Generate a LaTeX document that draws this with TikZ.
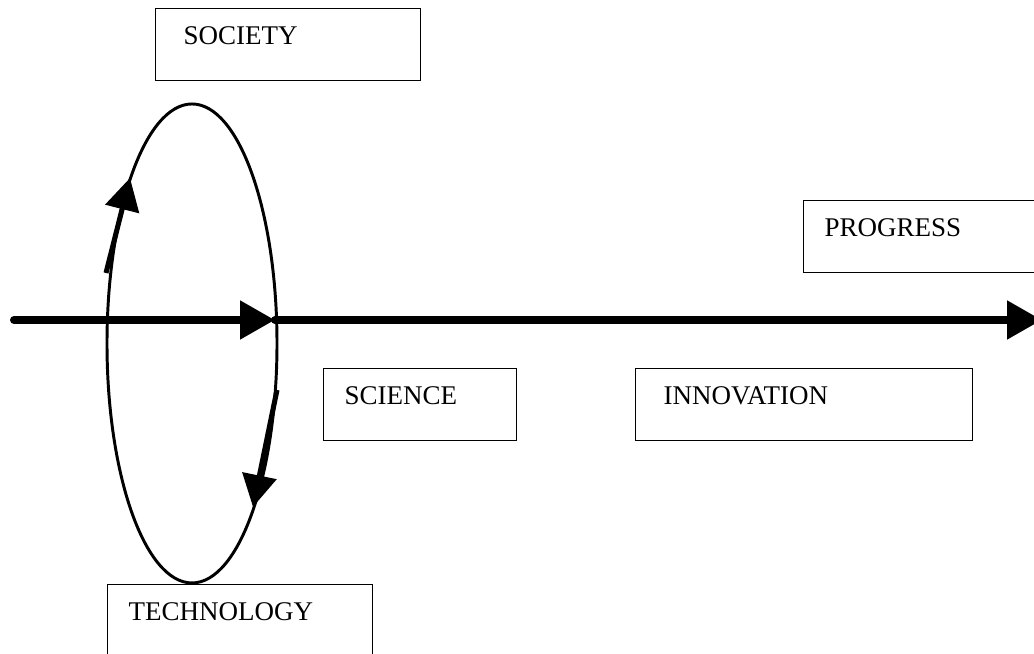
\documentclass[tikz,border=0pt]{standalone}
\usepackage{fontspec}
\setmainfont{Liberation Serif}
\usetikzlibrary{arrows.meta}

\begin{document}
\begin{tikzpicture}[
    box/.style={draw, line width=0.95pt, anchor=north west, minimum height=1.8cm,
        inner xsep=0.525cm, text height=0.45cm, text depth=0.45cm, align=left,
        font=\fontsize{19.2}{23}\selectfont},
    mainarrow/.style={line width=5.7pt, line cap=round, -{Triangle[length=0.875cm, width=0.925cm]}},
    looparrow/.style={line width=3.6pt, -{Triangle[length=0.8cm, width=0.85cm]}}
]
\useasboundingbox (0,0) rectangle (25.85,16.35);
\node[box, inner xsep=0.7cm, text width=5.225cm] (society) at (3.875,16.15) {SOCIETY};
\node[box, text width=3.775cm] (science) at (8.075,7.15) {SCIENCE};
\node[box, inner xsep=0.7cm, text width=7.025cm] (innovation) at (15.875,7.15) {INNOVATION};
\node[box, text width=5.95cm] (progress) at (20.075,11.35) {PROGRESS};
\node[box, text width=5.575cm] (technology) at (2.675,1.75) {TECHNOLOGY};
\draw[line width=2.1pt] (4.8,7.763) ellipse (2.125cm and 5.9875cm);
\coordinate (start) at (0.35,8.35);
\coordinate (loop) at (6.875,8.35);
\coordinate (goal) at (26.05,8.35);
\draw[mainarrow] (start) -- (loop);
\draw[mainarrow] (loop) -- (goal);
\coordinate (upfrom) at (2.65,9.525);
\coordinate (upto) at (3.25,11.9);
\coordinate (downfrom) at (6.925,6.6);
\coordinate (downto) at (6.325,3.675);
\draw[looparrow] (upfrom) -- (upto);
\draw[looparrow] (downfrom) -- (downto);
\end{tikzpicture}
\end{document}
